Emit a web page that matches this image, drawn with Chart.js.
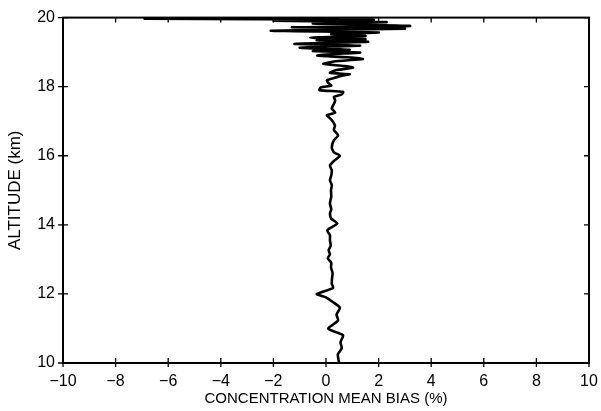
<!DOCTYPE html>
<html>
<head>
<meta charset="utf-8">
<script src="https://cdn.jsdelivr.net/npm/chart.js@4.4.1/dist/chart.umd.min.js"></script>
<style>
  html, body { margin: 0; padding: 0; background: #fff; }
  #wrap { width: 601px; height: 411px; position: relative; }
</style>
</head>
<body>
<div id="wrap"><canvas id="c" width="601" height="411"></canvas></div>
<script>
// Altitude (km) and concentration mean bias (%), bottom to top
const altitudes = [
  10.0, 10.25, 10.43, 10.6, 10.8, 10.9, 11.0, 11.1, 11.24, 11.4, 11.6, 11.76, 11.9, 12.0, 12.17,
  12.3, 12.46, 12.6, 12.77, 12.9, 13.03, 13.15, 13.27, 13.4, 13.55, 13.7, 13.84, 14.04, 14.18,
  14.33, 14.45, 14.62, 14.82, 15.0, 15.15, 15.29, 15.43, 15.58, 15.72, 15.85, 16.0, 16.1, 16.24,
  16.45, 16.59, 16.75, 16.88, 17.05, 17.17, 17.25, 17.37, 17.5, 17.6, 17.7, 17.78, 17.85, 17.9,
  17.98, 18.03, 18.1, 18.18, 18.25, 18.32, 18.36, 18.4, 18.48, 18.55, 18.6, 18.66, 18.73, 18.8,
  18.85, 18.9, 18.94, 18.99, 19.03, 19.07, 19.13, 19.19, 19.24, 19.3, 19.34, 19.38, 19.42, 19.47,
  19.52, 19.57, 19.62, 19.68, 19.72, 19.76, 19.83, 19.87, 19.91, 19.94, 19.97, 19.99
];
const meanBias = [
  0.5, 0.45, 0.6, 0.55, 0.65, 0.35, 0.08, 0.25, 0.46, 0.4, 0.53, 0.27, 0.0, -0.35, 0.27,
  0.22, 0.23, 0.25, 0.19, 0.2, 0.07, 0.15, 0.1, 0.18, 0.15, 0.15, 0.05, 0.43, 0.2,
  0.15, 0.2, 0.15, 0.2, 0.19, 0.22, 0.15, 0.2, 0.22, 0.15, 0.3, 0.53, 0.3, 0.22,
  0.3, 0.46, 0.3, 0.34, 0.2, 0.03, 0.35, 0.22, 0.3, 0.35, 0.3, 0.6, 0.65, -0.25,
  -0.2, 0.2, 0.1, 0.03, 0.3, 0.6, 0.9, 0.15, 0.4, 1.03, 0.7, -0.1, 0.3, 1.4,
  0.8, -0.33, 0.2, 1.3, -0.5, 0.9, -1.0, 1.3, -1.2, 1.6, -0.35, 1.5, -0.6, 1.5,
  0.2, 2.0, -2.1, 3.0, -1.3, 3.2, -0.5, 2.3, -2.0, 1.8, -6.9, 0.5
];
const xTicks = [-10, -8, -6, -4, -2, 0, 2, 4, 6, 8, 10];
const yTicks = [10, 12, 14, 16, 18, 20];
const xTitle = 'CONCENTRATION MEAN BIAS (%)';
const yTitle = 'ALTITUDE (km)';

const points = altitudes.map((a, i) => ({ x: meanBias[i], y: a }));

const FONT = '"Liberation Sans", Arial, Helvetica, sans-serif';

const framePlugin = {
  id: 'frame',
  afterDraw(chart) {
    const ctx = chart.ctx;
    const a = chart.chartArea;
    const xs = chart.scales.x, ys = chart.scales.y;
    ctx.save();
    ctx.strokeStyle = '#000';
    ctx.lineWidth = 2;
    ctx.strokeRect(a.left, a.top, a.right - a.left, a.bottom - a.top);
    ctx.lineWidth = 1.3;
    ctx.beginPath();
    xTicks.forEach(v => {
      const px = xs.getPixelForValue(v);
      ctx.moveTo(px, a.bottom + 4);
      ctx.lineTo(px, a.bottom - 5);
      ctx.moveTo(px, a.top);
      ctx.lineTo(px, a.top + 5);
    });
    yTicks.forEach(v => {
      const py = ys.getPixelForValue(v);
      ctx.moveTo(a.left - 5, py);
      ctx.lineTo(a.left + 5, py);
      ctx.moveTo(a.right, py);
      ctx.lineTo(a.right - 5, py);
    });
    ctx.stroke();
    ctx.restore();
  }
};

new Chart(document.getElementById('c'), {
  type: 'scatter',
  data: {
    datasets: [{
      data: points,
      showLine: true,
      borderColor: '#000',
      borderWidth: 2.6,
      pointRadius: 0,
      tension: 0.2,
      fill: false
    }]
  },
  options: {
    responsive: false,
    animation: false,
    devicePixelRatio: 1,
    layout: { padding: { left: 0, right: 12, top: 17, bottom: 0 } },
    plugins: { legend: { display: false }, tooltip: { enabled: false } },
    scales: {
      x: {
        type: 'linear',
        min: -10, max: 10,
        afterBuildTicks(scale) { scale.ticks = xTicks.map(v => ({ value: v })); },
        afterFit(scale) { scale.height = 48; scale.paddingRight = 0; scale.paddingLeft = 0; },
        ticks: {
          color: '#000',
          font: { family: FONT, size: 16 },
          padding: 9,
          maxRotation: 0,
          callback: v => (v < 0 ? '\u2212' + Math.abs(v) : String(v))
        },
        grid: { display: true, drawOnChartArea: false, drawTicks: false },
        border: { display: false },
        title: {
          display: true, text: xTitle, color: '#000',
          font: { family: FONT, size: 15 }, padding: { top: 0, bottom: 3 }
        }
      },
      y: {
        type: 'linear',
        min: 10, max: 20,
        afterBuildTicks(scale) { scale.ticks = yTicks.map(v => ({ value: v })); },
        afterFit(scale) { scale.width = 63; },
        ticks: {
          color: '#000',
          font: { family: FONT, size: 16 },
          padding: 8,
          callback: v => String(v)
        },
        grid: { display: true, drawOnChartArea: false, drawTicks: false },
        border: { display: false },
        title: {
          display: true, text: yTitle, color: '#000',
          font: { family: FONT, size: 17 }, padding: { top: 5, bottom: 0 }
        }
      }
    }
  },
  plugins: [framePlugin]
});
</script>
</body>
</html>
